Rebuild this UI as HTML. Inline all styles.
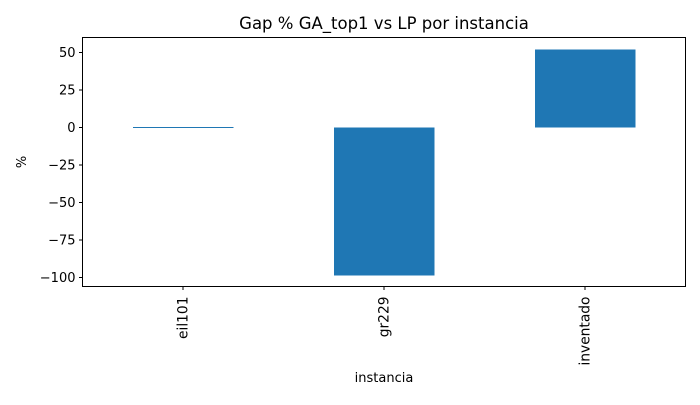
<!DOCTYPE html>
<html><head><meta charset="utf-8"><style>
body{margin:0;background:#fff}
text{font-family:"DejaVu Sans","Liberation Sans",sans-serif;fill:#000}
</style></head><body>
<svg id="chart" width="700" height="400" viewBox="0 0 700 400" xmlns="http://www.w3.org/2000/svg">
<rect width="700" height="400" fill="#fff"/>
<text x="384" y="29" font-size="16.5" text-anchor="middle">Gap % GA_top1 vs LP por instancia</text>
<g id="bars" shape-rendering="crispEdges"></g>
<g id="yaxis"></g>
<g id="xaxis"></g>
<rect x="82.5" y="37.5" width="603" height="249" fill="none" stroke="#000" stroke-width="1"/>
<text transform="translate(26,162) rotate(-90)" font-size="13" text-anchor="middle">%</text>
<text x="384" y="382" font-size="13" text-anchor="middle">instancia</text>
</svg>
<script>
const categories = ["eil101","gr229","inventado"];
const values = [0.5,-98.5,52];
const yTicks = [50,25,0,-25,-50,-75,-100];
const yTickLabels = ["50","25","0","\u221225","\u221250","\u221275","\u2212100"];

const NS="http://www.w3.org/2000/svg";
const L=82.5,R=685.5,T=37.5,B=286.5;
const yMin=-106,yMax=60;
function y(v){return B-(v-yMin)/(yMax-yMin)*(B-T);}
const step=(R-L)/categories.length;
function xc(i){return L+step*(i+0.5);}
const bw=step*0.5;
const bars=document.getElementById('bars');
const xa=document.getElementById('xaxis');
const ya=document.getElementById('yaxis');
categories.forEach((c,i)=>{
  const r=document.createElementNS(NS,'rect');
  
  
  const y0=y(0),y1=y(values[i]);
  r.setAttribute('x',xc(i)-bw/2);
  r.setAttribute('width',bw);
  r.setAttribute('y',Math.min(y0,y1));
  r.setAttribute('height',Math.max(Math.abs(y1-y0),1));
  r.setAttribute('fill','#1f77b4');
  bars.appendChild(r);
  const t=document.createElementNS(NS,'line');
  
  
  t.setAttribute('x1',xc(i));t.setAttribute('x2',xc(i));
  t.setAttribute('y1',B);t.setAttribute('y2',B+3.5);
  t.setAttribute('stroke','#000');
  xa.appendChild(t);
  const lb=document.createElementNS(NS,'text');
  
  
  lb.setAttribute('font-size','13.8');
  lb.setAttribute('text-anchor','end');
  lb.setAttribute('transform','translate('+(xc(i)+4.5)+','+(B+10)+') rotate(-90)');
  lb.textContent=c;
  xa.appendChild(lb);
});
yTicks.forEach((v,i)=>{
  const t=document.createElementNS(NS,'line');
  
  
  t.setAttribute('x1',L-3.5);t.setAttribute('x2',L);
  t.setAttribute('y1',y(v));t.setAttribute('y2',y(v));
  t.setAttribute('stroke','#000');
  ya.appendChild(t);
  const lb=document.createElementNS(NS,'text');
  
  
  lb.setAttribute('font-size','13');
  lb.setAttribute('text-anchor','end');
  lb.setAttribute('x',L-7);
  lb.setAttribute('y',y(v)+4.5);
  lb.textContent=yTickLabels[i];
  ya.appendChild(lb);
});
</script>
</body></html>
